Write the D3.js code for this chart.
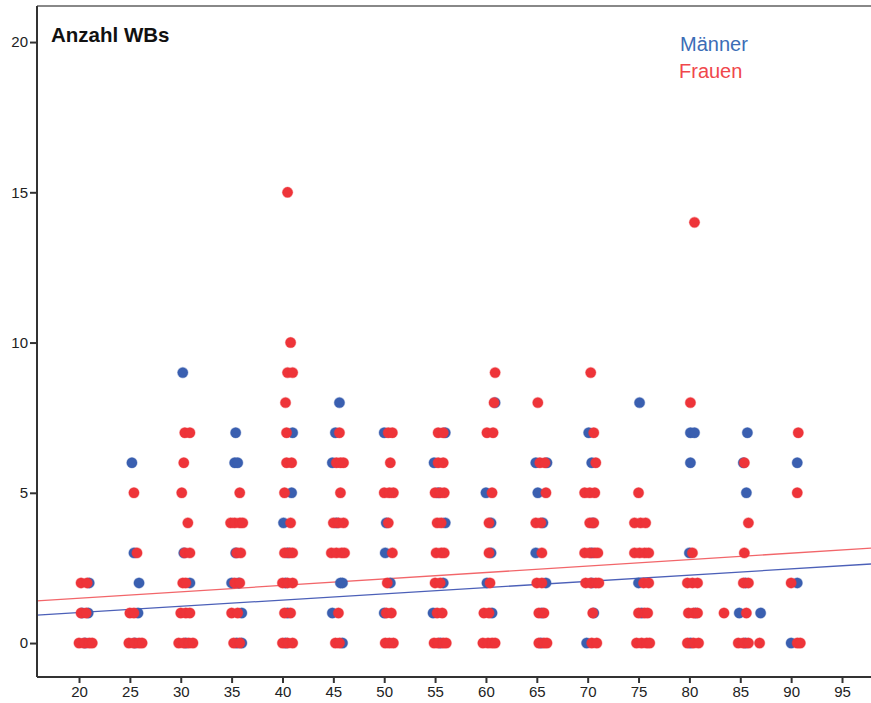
<!DOCTYPE html>
<meta charset="utf-8">
<style>
body { margin: 0; background: #fff; }
text { font-family: "Liberation Sans", Arial, sans-serif; }
.axis path, .axis line { stroke: #333; stroke-width: 2px; }
.axis text { fill: #222; font-size: 15px; font-family: "Liberation Sans", Arial, sans-serif; }
</style>
<body>
<script src="https://cdn.jsdelivr.net/npm/d3@7"></script>
<script>

var width = 871,
    height = 703;

// [age, count]
var maenner = [
  [21.0,2],[20.3,1],[20.9,1],[20.6,0],
  [25.2,6],[25.4,3],[25.9,2],[25.8,1],[25.5,0],
  [30.2,9],[30.3,3],[30.9,2],[30.5,0],
  [35.4,7],[35.3,6],[35.6,6],[35.4,3],[35.0,2],[35.7,2],[36.0,1],[35.5,0],[36.0,0],
  [41.0,7],[40.9,5],[40.1,4],[40.5,3],[40.3,2],[40.5,1],[40.3,0],
  [45.6,8],[45.2,7],[44.9,6],[45.3,4],[45.7,2],[45.9,2],[44.9,1],[45.9,0],
  [50.0,7],[50.2,4],[50.1,3],[50.6,2],[50.0,1],
  [56.0,7],[54.9,6],[55.3,5],[56.0,4],[55.8,2],[54.8,1],[55.5,0],
  [60.9,8],[60.0,5],[60.5,4],[60.5,3],[60.1,2],[60.6,1],
  [64.9,6],[66.0,6],[65.1,5],[65.6,4],[64.9,3],[65.9,2],[65.5,1],[65.4,0],
  [70.1,7],[70.4,6],[70.5,4],[70.4,3],[70.4,2],[70.6,1],[69.9,0],
  [75.1,8],[75.0,2],[75.3,1],
  [80.1,7],[80.5,7],[80.1,6],[80.0,3],[80.6,1],[80.1,0],
  [85.7,7],[85.3,6],[85.6,5],[85.5,2],[84.9,1],[87.0,1],[85.5,0],
  [90.6,6],[90.6,2],[90.0,0]
];

var frauen = [
  [20.2,2],[20.8,2],[20.2,1],[20.7,1],[20.0,0],[20.5,0],[21.0,0],[21.3,0],
  [25.4,5],[25.7,3],[25.0,1],[25.4,1],[24.9,0],[25.4,0],[25.9,0],[26.2,0],
  [30.4,7],[30.9,7],[30.3,6],[30.1,5],[30.7,4],[30.4,3],[30.9,3],[30.2,2],[30.5,2],
  [30.0,1],[30.5,1],[30.9,1],[29.8,0],[30.3,0],[30.8,0],[31.2,0],
  [35.8,5],[34.9,4],[35.3,4],[35.8,4],[36.1,4],[35.5,3],[35.9,3],[35.3,2],[35.8,2],
  [35.0,1],[35.6,1],[35.2,0],[35.8,0],
  [40.5,15],[40.8,10],[40.5,9],[41.0,9],[40.3,8],[40.4,7],[40.4,6],[40.9,6],[40.2,5],
  [40.8,4],[40.2,3],[40.7,3],[41.0,3],[40.0,2],[40.5,2],[41.0,2],[40.2,1],[40.8,1],
  [40.0,0],[40.5,0],[41.0,0],
  [45.6,7],[45.3,6],[45.7,6],[46.0,6],[45.7,5],[45.0,4],[45.5,4],[46.0,4],[44.8,3],
  [45.3,3],[45.8,3],[46.1,3],[45.5,1],[45.2,0],[45.6,0],
  [50.4,7],[50.8,7],[50.6,6],[50.0,5],[50.5,5],[50.9,5],[50.4,4],[50.8,3],[50.3,2],
  [50.2,1],[50.7,1],[50.1,0],[50.5,0],[50.9,0],
  [55.3,7],[55.8,7],[55.3,6],[55.8,6],[55.0,5],[55.5,5],[55.9,5],[55.2,4],[55.6,4],
  [55.1,3],[55.6,3],[55.9,3],[55.0,2],[55.5,2],[55.2,1],[55.7,1],[54.9,0],[55.3,0],
  [55.8,0],[56.1,0],
  [60.9,9],[60.8,8],[60.1,7],[60.7,7],[60.6,5],[60.3,4],[60.3,3],[60.4,2],[59.8,1],
  [60.3,1],[59.7,0],[60.2,0],[60.6,0],[60.9,0],
  [65.1,8],[65.3,6],[65.8,6],[65.9,5],[64.9,4],[65.4,4],[65.5,3],[65.0,2],[65.5,2],
  [65.2,1],[65.7,1],[65.2,0],[65.7,0],[66.0,0],
  [70.3,9],[70.6,7],[70.8,6],[69.7,5],[70.2,5],[70.7,5],[70.2,4],[70.6,4],[69.7,3],
  [70.2,3],[70.7,3],[71.0,3],[69.8,2],[70.3,2],[70.8,2],[71.1,2],[70.5,1],[70.4,0],[70.9,0],
  [75.0,5],[74.6,4],[75.2,4],[75.7,4],[74.6,3],[75.1,3],[75.6,3],[76.0,3],[75.5,2],
  [76.0,2],[75.0,1],[75.6,1],[75.9,1],[74.8,0],[75.3,0],[75.8,0],[76.1,0],
  [80.5,14],[80.1,8],[80.3,3],[79.8,2],[80.3,2],[80.8,2],[79.9,1],[80.4,1],[80.8,1],
  [79.8,0],[80.4,0],[80.9,0],
  [83.4,1],
  [85.4,6],[85.8,4],[85.4,3],[85.3,2],[85.8,2],[85.6,1],[84.8,0],[85.3,0],[85.8,0],[86.9,0],
  [90.7,7],[90.6,5],[90.0,2],[90.6,0],[90.9,0]
];

// linear fit lines: value at x domain start and end
var fitMaenner = [[15.87, 0.93], [97.85, 2.63]];
var fitFrauen  = [[15.87, 1.40], [97.85, 3.16]];

var xTicks = [20, 25, 30, 35, 40, 45, 50, 55, 60, 65, 70, 75, 80, 85, 90, 95];
var yTicks = [0, 5, 10, 15, 20];

var blue = "#3a5fb0",
    red = "#ee3439";

var plotLeft = 37, plotRight = 871, plotTop = 6, plotBottom = 677;

var x = d3.scaleLinear().domain([15.87, 97.85]).range([plotLeft, plotRight]);
var y = d3.scaleLinear().domain([-1.13, 21.2]).range([plotBottom, plotTop]);

var svg = d3.select("body").append("svg")
    .attr("width", width)
    .attr("height", height);

// top frame line
svg.append("line")
    .attr("x1", plotLeft).attr("x2", plotRight)
    .attr("y1", plotTop).attr("y2", plotTop)
    .attr("stroke", "#888").attr("stroke-width", 2);

var line = d3.line().x(function(d) { return x(d[0]); }).y(function(d) { return y(d[1]); });

svg.append("path").datum(fitFrauen)
    .attr("d", line).attr("fill", "none")
    .attr("stroke", "#f2666a").attr("stroke-width", 1.3);

svg.append("path").datum(fitMaenner)
    .attr("d", line).attr("fill", "none")
    .attr("stroke", "#4c60b8").attr("stroke-width", 1.3);

function dots(data, color) {
  svg.append("g").selectAll("circle")
      .data(data)
    .enter().append("circle")
      .attr("cx", function(d) { return x(d[0]); })
      .attr("cy", function(d) { return y(d[1]); })
      .attr("r", 5.2)
      .attr("fill", color)
      .attr("stroke", color)
      .attr("stroke-opacity", 0.35)
      .attr("stroke-width", 1.2);
}

dots(maenner, blue);
dots(frauen, red);

svg.append("g")
    .attr("class", "axis")
    .attr("transform", "translate(" + plotLeft + ",0)")
    .call(d3.axisLeft(y).tickValues(yTicks).tickSize(7).tickPadding(2).tickSizeOuter(0))
    .call(function(g) { g.select(".domain").attr("d", "M0," + plotTop + "V" + plotBottom); });

svg.append("g")
    .attr("class", "axis")
    .attr("transform", "translate(0," + plotBottom + ")")
    .call(d3.axisBottom(x).tickValues(xTicks).tickSize(6).tickPadding(3).tickSizeOuter(0))
    .call(function(g) { g.select(".domain").attr("d", "M" + plotLeft + ",0H" + plotRight); });

svg.append("text")
    .attr("x", 51).attr("y", 42)
    .attr("font-size", 20.5).attr("font-weight", "bold")
    .attr("fill", "#111")
    .text("Anzahl WBs");

svg.append("text")
    .attr("x", 680).attr("y", 51)
    .attr("font-size", 20).attr("fill", "#3c6db6")
    .text("Männer");

svg.append("text")
    .attr("x", 679).attr("y", 78)
    .attr("font-size", 20).attr("fill", "#f0474b")
    .text("Frauen");

</script>
